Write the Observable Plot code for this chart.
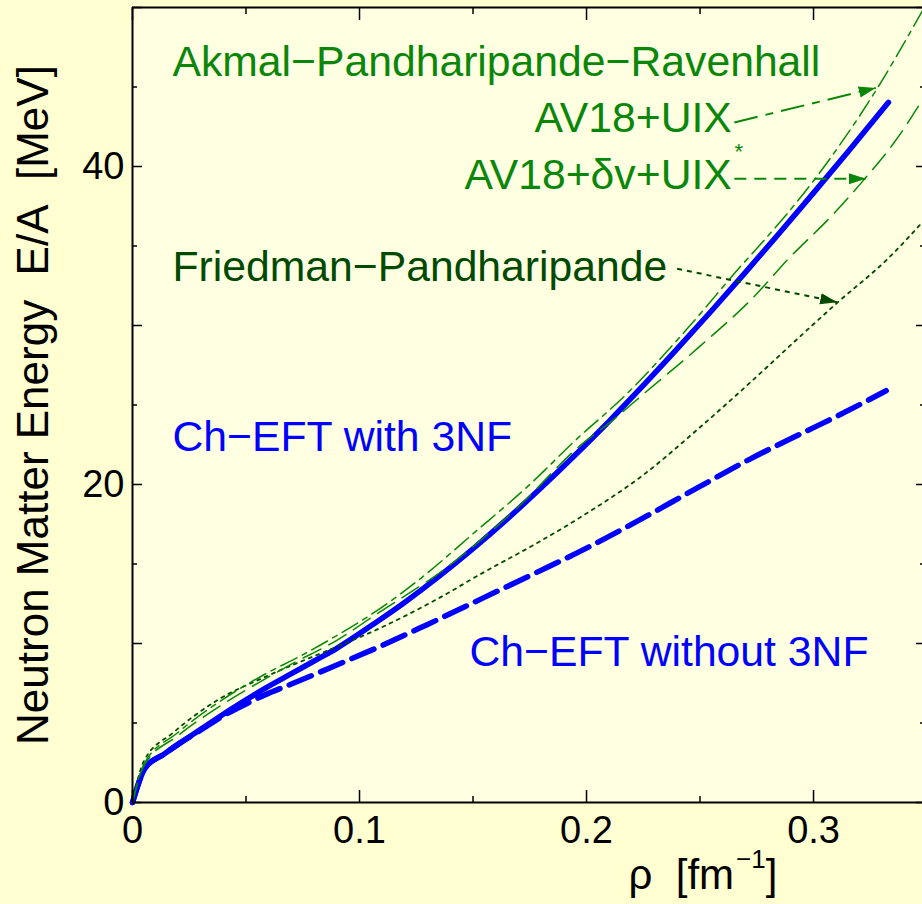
<!DOCTYPE html>
<html><head><meta charset="utf-8">
<script src="https://cdn.jsdelivr.net/npm/d3@7"></script>
<script src="https://cdn.jsdelivr.net/npm/@observablehq/plot@0.6"></script>
<style>
html,body{margin:0;padding:0;background:#FFFFD2;overflow:hidden;}
#chart svg{display:block;}
#chart text{white-space:pre;}
</style></head><body><div id="chart"></div>
<script>
// ---- data (rho axis units, E/A in MeV) ----
const rhoWith3NF = [0, 0.0057, 0.014, 0.021, 0.03, 0.04, 0.05, 0.058, 0.07, 0.08, 0.09, 0.108, 0.12, 0.135, 0.15, 0.165, 0.18, 0.195, 0.21, 0.225, 0.24, 0.255, 0.27, 0.285, 0.3, 0.315, 0.333];
const eWith3NF   = [0, 2.2, 3.05, 3.75, 4.6, 5.55, 6.45, 7.15, 8.1, 8.9, 9.7, 11.4, 12.6, 14.22, 15.96, 17.82, 19.79, 21.85, 23.99, 26.23, 28.54, 30.91, 33.34, 35.82, 38.34, 40.9, 44.03];

const rhoNo3NF = [0, 0.0057, 0.014, 0.021, 0.03, 0.04, 0.05, 0.058, 0.07, 0.09, 0.108, 0.13, 0.155, 0.177, 0.2, 0.216, 0.249, 0.272, 0.296, 0.309, 0.332];
const eNo3NF   = [0, 2.2, 3.05, 3.75, 4.55, 5.45, 6.2, 6.75, 7.45, 8.65, 9.75, 11.2, 12.9, 14.4, 16.0, 17.2, 19.8, 21.6, 23.3, 24.2, 25.9];

const rhoUIX = [0, 0.005, 0.02, 0.04, 0.06, 0.0725, 0.09, 0.107, 0.127, 0.15, 0.175, 0.196, 0.2163, 0.245, 0.269, 0.2744, 0.30, 0.328, 0.348];
const eUIX   = [0, 2.4, 4.4, 6.5, 8.2, 9.1, 10.5, 12.0, 14.1, 16.9, 20.0, 22.9, 25.5, 29.9, 33.9, 34.75, 39.1, 44.9, 49.8];

const rhoDv = [0, 0.005, 0.02, 0.04, 0.06, 0.07, 0.09, 0.107, 0.1386, 0.17, 0.196, 0.212, 0.226, 0.25, 0.2737, 0.289, 0.308, 0.323, 0.336, 0.348];
const eDv   = [0, 2.3, 4.2, 6.2, 7.9, 8.7, 10.2, 11.8, 14.8, 18.6, 22.3, 24.1, 25.8, 28.7, 31.8, 34.2, 36.9, 39.3, 41.6, 44.2];

const rhoFP = [0, 0.005, 0.018, 0.037, 0.06, 0.085, 0.108, 0.133, 0.155, 0.178, 0.198, 0.225, 0.25, 0.272, 0.294, 0.311, 0.332, 0.348];
const eFP   = [0, 2.6, 4.4, 6.4, 8.0, 9.5, 10.9, 12.7, 14.5, 16.3, 18.0, 20.6, 23.6, 26.4, 29.3, 31.5, 34.1, 36.5];

// ticks
const xMajorTicks = [0, 0.1, 0.2, 0.3];
const xMinorTicks = [0.05, 0.15, 0.25];
const xTickLabels = ["0", "0.1", "0.2", "0.3"];
const yMajorTicks = [0, 10, 20, 30, 40, 50];
const yMinorTicks = [5, 15, 25, 35, 45];
const yLabelTicks = [0, 20, 40];

// annotations
const labelTexts  = ["Akmal\u2212Pandharipande\u2212Ravenhall", "AV18+UIX", "AV18+\u03b4v+UIX", "Friedman\u2212Pandharipande", "Ch\u2212EFT with 3NF", "Ch\u2212EFT without 3NF"];
const labelRho    = [0.0176, 0.264, 0.264, 0.0176, 0.0176, 0.3242];
const labelE      = [45.7, 42.15, 38.6, 32.8, 22.1, 8.6];
const labelColors = ["#0a870a", "#0a870a", "#0a870a", "#004a00", "#0000ff", "#0000ff"];
const labelAnchor = ["start", "end", "end", "start", "start", "end"];

const arrowFromRho = [0.2651, 0.2651, 0.2399];
const arrowFromE   = [42.77, 39.23, 33.57];
const arrowToRho   = [0.3274, 0.3230, 0.3104];
const arrowToE     = [44.94, 39.23, 31.47];

const yTitle = "Neutron Matter Energy\u00a0\u00a0E/A\u00a0\u00a0[MeV]";
const xTitleMain = "\u03c1\u00a0\u00a0[fm";
const xTitleSup = "\u22121";
const xTitleEnd = "]";

// ---- build tables ----
const toRows = (rho, e) => rho.map((r, i) => ({rho: r, e: e[i]}));
const with3NF = toRows(rhoWith3NF, eWith3NF);
const no3NF = toRows(rhoNo3NF, eNo3NF);
const uix = toRows(rhoUIX, eUIX);
const dv = toRows(rhoDv, eDv);
const fp = toRows(rhoFP, eFP);
const labels = labelTexts.map((t, i) => ({text: t, rho: labelRho[i], e: labelE[i], color: labelColors[i], anchor: labelAnchor[i]}));
const arrows = arrowFromRho.map((r, i) => ({x1: r, y1: arrowFromE[i], x2: arrowToRho[i], y2: arrowToE[i]}));

const GREEN = "#0a870a", DKGREEN = "#004a00", BLUE = "#0000ff";
const FONT = "'Liberation Sans', Arial, Helvetica, sans-serif";
const XTITLE_KEY = "__xtitle__";

function triMarker(color, context) {
  const ns = "http://www.w3.org/2000/svg";
  const doc = (context && context.document) || document;
  const m = doc.createElementNS(ns, "marker");
  m.setAttribute("viewBox", "-10 -5 10 10");
  m.setAttribute("markerUnits", "userSpaceOnUse");
  m.setAttribute("markerWidth", "17");
  m.setAttribute("markerHeight", "17");
  m.setAttribute("orient", "auto");
  m.setAttribute("refX", "0");
  m.setAttribute("refY", "0");
  m.setAttribute("fill", color);
  m.setAttribute("stroke", "none");
  m.setAttribute("stroke-dasharray", "none");
  const p = doc.createElementNS(ns, "path");
  p.setAttribute("d", "M-10,-3.3L0,0L-10,3.3Z");
  m.appendChild(p);
  return m;
}

function build(marker) {
  const arrowMark = (i, color, dash) => Plot.link([arrows[i]], {
    x1: "x1", y1: "y1", x2: "x2", y2: "y2",
    stroke: color, strokeWidth: 2, strokeDasharray: dash, markerEnd: marker
  });
  return Plot.plot({
    width: 922,
    height: 904,
    marginLeft: 132,
    marginRight: 0,
    marginTop: 7,
    marginBottom: 102,
    style: {background: "transparent", fontFamily: FONT, color: "black", overflow: "visible"},
    x: {domain: [0, 0.348]},
    y: {domain: [0, 50]},
    color: {type: "identity"},
    marks: [
      Plot.frame({fill: "#FFFFE1", stroke: "none"}),
      // curves
      Plot.line(no3NF, {x: "rho", y: "e", stroke: BLUE, strokeWidth: 5.5, strokeDasharray: "24,10", curve: "monotone-x"}),
      Plot.line(with3NF, {x: "rho", y: "e", stroke: BLUE, strokeWidth: 5.5, curve: "monotone-x"}),
      Plot.line(fp, {x: "rho", y: "e", stroke: DKGREEN, strokeWidth: 1.8, strokeDasharray: "3,5", curve: "monotone-x"}),
      Plot.line(dv, {x: "rho", y: "e", stroke: GREEN, strokeWidth: 1.5, strokeDasharray: "20,9", curve: "monotone-x"}),
      Plot.line(uix, {x: "rho", y: "e", stroke: GREEN, strokeWidth: 1.5, strokeDasharray: "18,6,5,6", curve: "monotone-x"}),
      // arrows
      arrowMark(0, GREEN, "24,8,8,8"),
      arrowMark(1, GREEN, "12,8"),
      arrowMark(2, DKGREEN, "5,5"),
      // annotation texts
      Plot.text(labels.filter(d => d.anchor === "start"), {x: "rho", y: "e", text: "text", fill: "color", fontSize: 42.7, textAnchor: "start", lineAnchor: "bottom"}),
      Plot.text(labels.filter(d => d.anchor === "end"), {x: "rho", y: "e", text: "text", fill: "color", fontSize: 42.7, textAnchor: "end", lineAnchor: "bottom"}),
      Plot.text(["*"], {x: 0.2652, y: 40.45, text: d => d, fill: GREEN, fontSize: 22, textAnchor: "start", lineAnchor: "bottom"}),
      // frame lines
      Plot.ruleX([0], {stroke: "black", strokeWidth: 2}),
      Plot.ruleY([0], {stroke: "black", strokeWidth: 2}),
      Plot.ruleY([50], {stroke: "black", strokeWidth: 2}),
      // ticks (inward)
      Plot.axisX(xMajorTicks, {anchor: "bottom", tickSize: -12, tickFormat: () => "", strokeWidth: 1.5}),
      Plot.axisX(xMinorTicks, {anchor: "bottom", tickSize: -6, tickFormat: () => "", strokeWidth: 1.5}),
      Plot.axisX(xMajorTicks, {anchor: "top", tickSize: -12, tickFormat: () => "", strokeWidth: 1.5}),
      Plot.axisX(xMinorTicks, {anchor: "top", tickSize: -6, tickFormat: () => "", strokeWidth: 1.5}),
      Plot.axisY(yMajorTicks, {anchor: "left", tickSize: -10, tickFormat: () => "", strokeWidth: 1.5}),
      Plot.axisY(yMinorTicks, {anchor: "left", tickSize: -5, tickFormat: () => "", strokeWidth: 1.5}),
      Plot.axisY(yMajorTicks, {anchor: "right", tickSize: -7, tickFormat: () => "", strokeWidth: 1.5}),
      Plot.axisY(yMinorTicks, {anchor: "right", tickSize: -3, tickFormat: () => "", strokeWidth: 1.5}),
      // tick labels
      Plot.axisX(xMajorTicks, {anchor: "bottom", tickSize: 0, tickPadding: 14, fontSize: 38, tickFormat: (d, i) => xTickLabels[i], label: null}),
      Plot.axisY(yLabelTicks, {anchor: "left", tickSize: 0, tickPadding: 8, fontSize: 38, tickFormat: d => String(d), label: null}),
      // axis titles
      Plot.text([yTitle], {frameAnchor: "left", text: d => d, rotate: -90, dx: -85, lineAnchor: "bottom", textAnchor: "middle", fontSize: 44, fill: "black"}),
      Plot.text([XTITLE_KEY], {x: 0.2185, frameAnchor: "bottom", text: d => d, dy: 86, lineAnchor: "bottom", textAnchor: "start", fontSize: 42, fill: "black"})
    ]
  });
}

let chart;
try { chart = build(triMarker); } catch (e) { chart = build("arrow"); }

// rich x-axis title with a superscript
chart.querySelectorAll("text").forEach(t => {
  if (t.textContent === XTITLE_KEY) {
    const ns = "http://www.w3.org/2000/svg";
    while (t.firstChild) t.removeChild(t.firstChild);
    const a = document.createElementNS(ns, "tspan"); a.textContent = xTitleMain;
    const b = document.createElementNS(ns, "tspan"); b.textContent = xTitleSup;
    b.setAttribute("font-size", "26"); b.setAttribute("dy", "-21"); b.setAttribute("dx", "2");
    const c = document.createElementNS(ns, "tspan"); c.textContent = xTitleEnd;
    c.setAttribute("font-size", "42"); c.setAttribute("dy", "21"); c.setAttribute("dx", "0");
    t.append(a, b, c);
  }
});
document.getElementById("chart").appendChild(chart);
</script>
</body></html>
